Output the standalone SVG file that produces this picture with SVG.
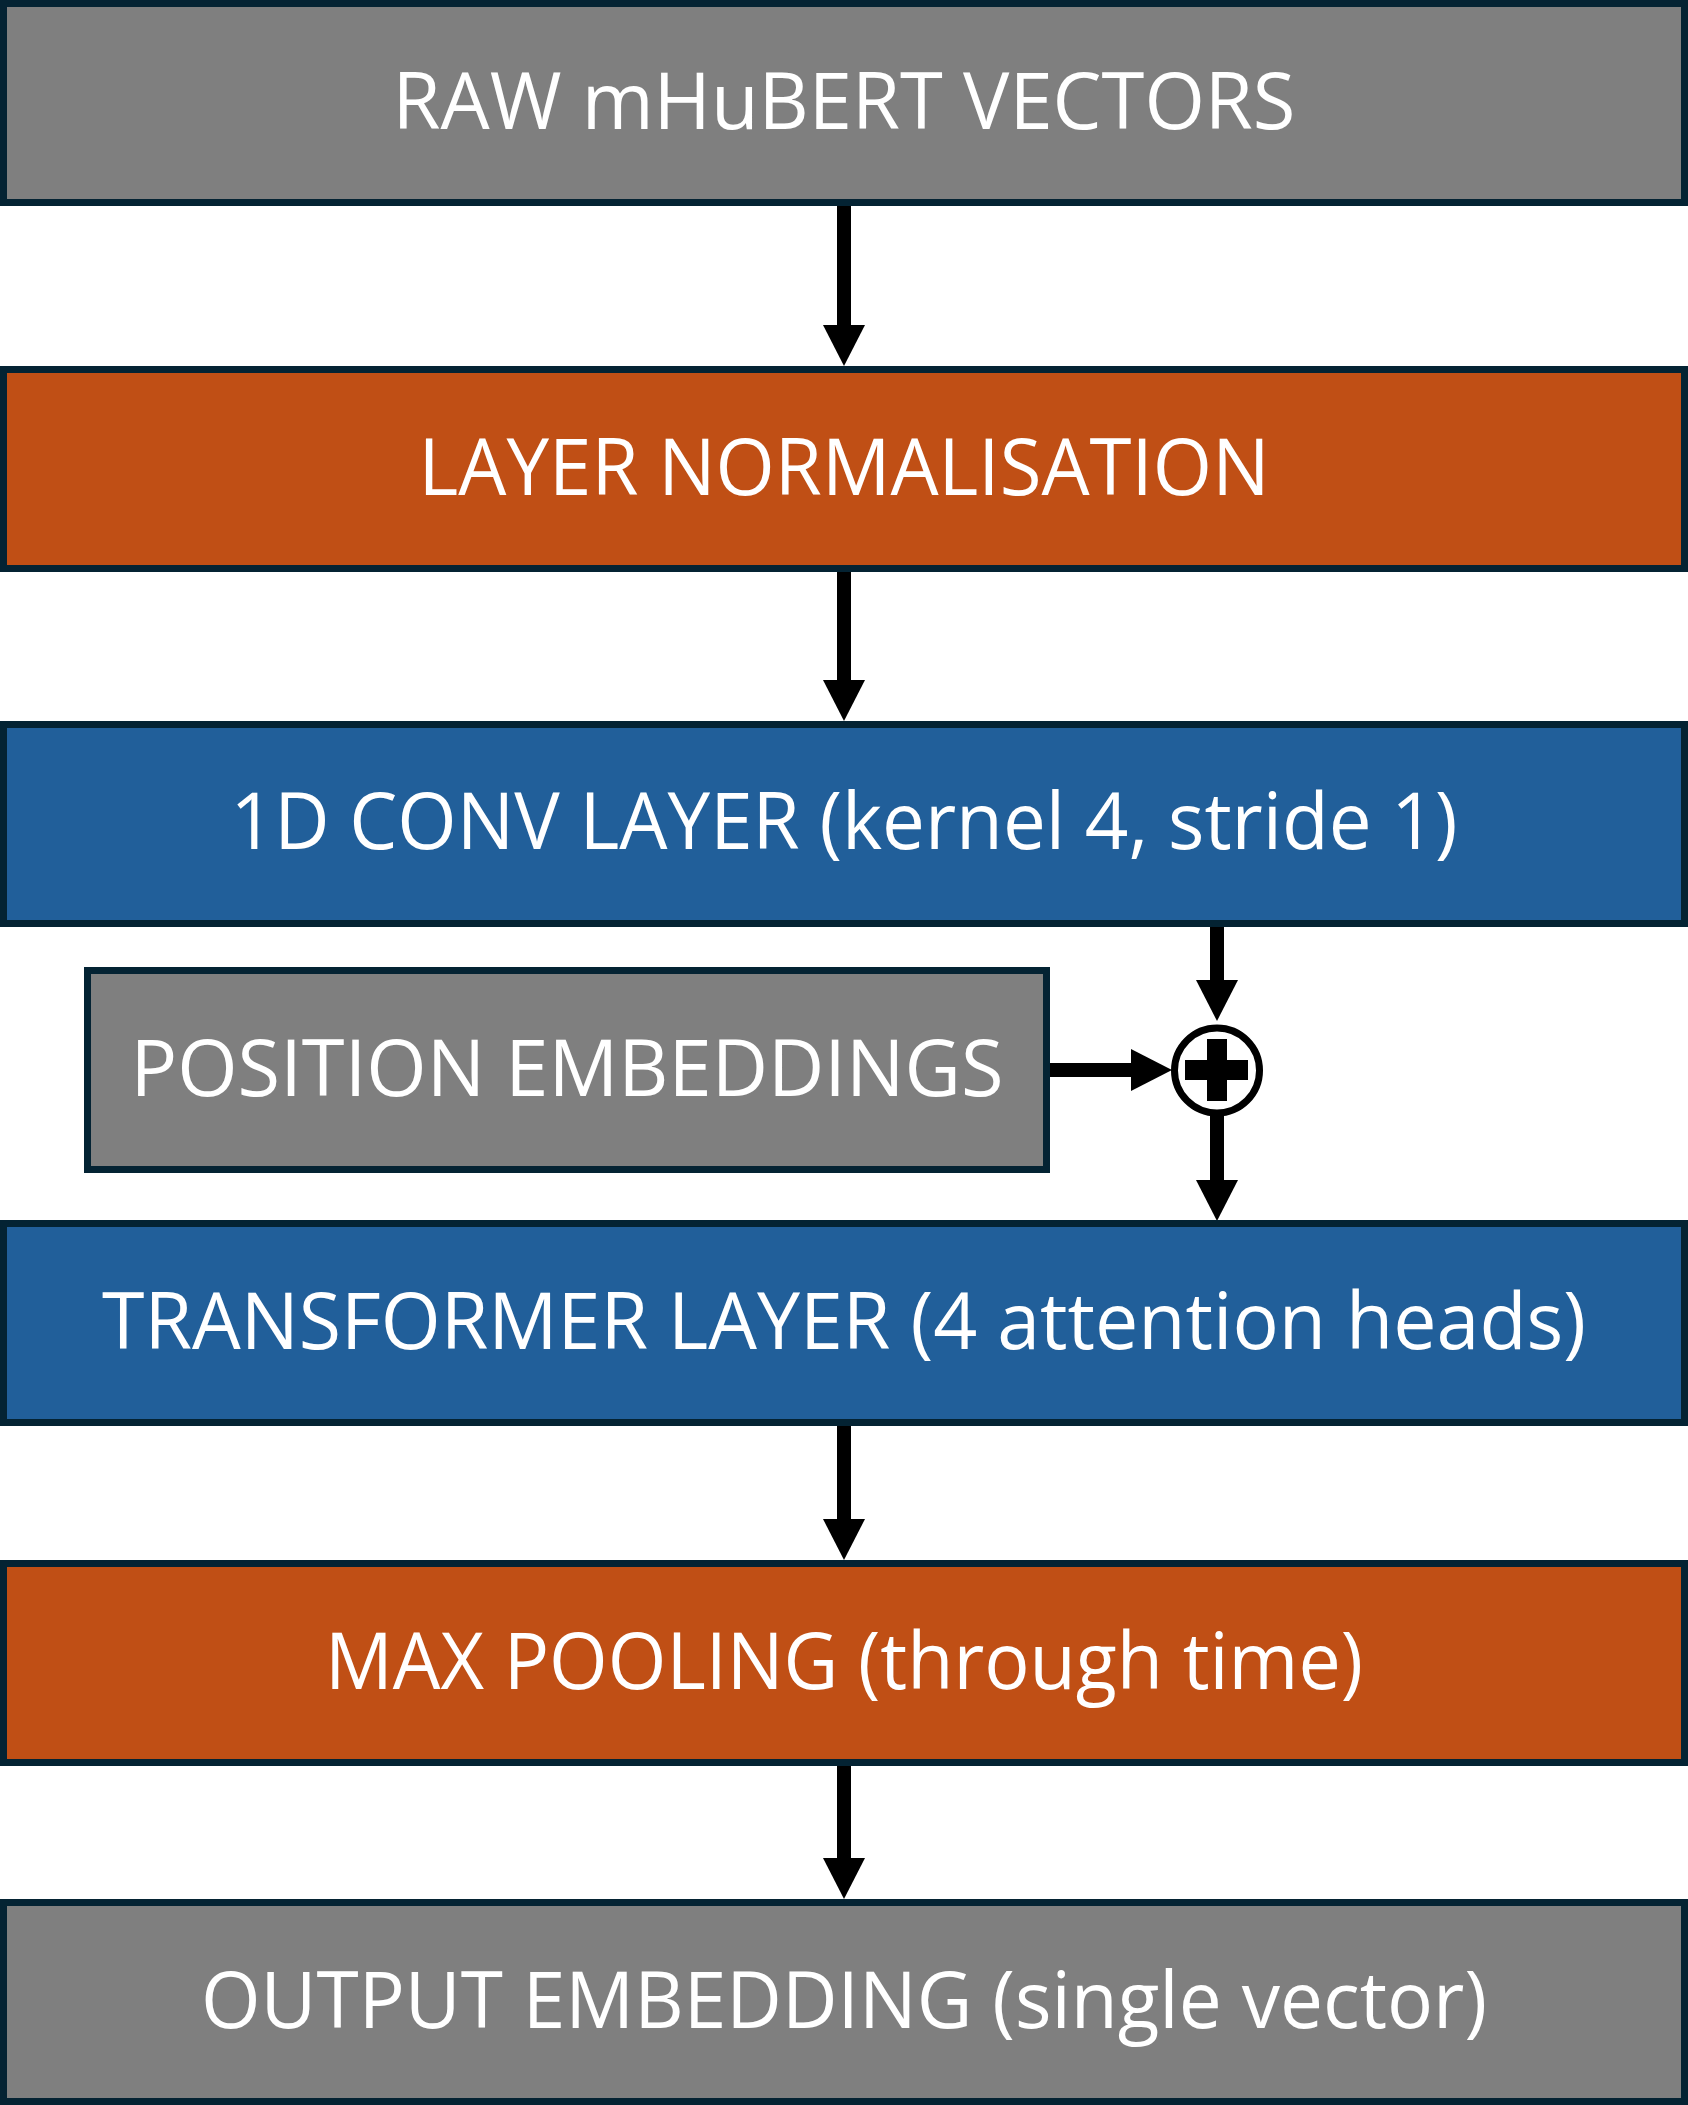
<svg xmlns="http://www.w3.org/2000/svg" width="1688" height="2105" viewBox="0 0 1688 2105">
<style>
.box{stroke:#042333;stroke-width:7}
.grey{fill:#7f7f7f}
.orange{fill:#c04f15}
.blue{fill:#215f9a}
.lbl{font-family:"Open Sans","Liberation Sans",sans-serif;font-size:78px;fill:#ffffff;text-anchor:middle}
.conn{stroke:#000000;stroke-width:14;fill:none;marker-end:url(#ah)}
</style>
<defs>
<marker id="ah" viewBox="0 0 41 42" refX="21" refY="21" markerWidth="41" markerHeight="42" markerUnits="userSpaceOnUse" orient="auto">
<path d="M0,0 L41,21 L0,42 Z" fill="#000000"/>
</marker>
</defs>
<rect width="1688" height="2105" fill="#ffffff"/>
<g id="connectors">
<path class="conn" d="M844,202 V346"/>
<path class="conn" d="M844,569 V701"/>
<path class="conn" d="M1217,924 V1001"/>
<path class="conn" d="M1047,1070 H1152"/>
<path class="conn" d="M1217,1112 V1201"/>
<path class="conn" d="M844,1423 V1540"/>
<path class="conn" d="M844,1763 V1879"/>
</g>
<g id="raw-vectors">
<rect class="box grey" x="3.5" y="3.5" width="1681" height="199"/>
<text class="lbl" x="844" y="129" textLength="903" lengthAdjust="spacingAndGlyphs">RAW mHuBERT VECTORS</text>
</g>
<g id="layer-norm">
<rect class="box orange" x="3.5" y="369.5" width="1681" height="199"/>
<text class="lbl" x="844" y="495" textLength="851" lengthAdjust="spacingAndGlyphs">LAYER NORMALISATION</text>
</g>
<g id="conv-layer">
<rect class="box blue" x="3.5" y="724.5" width="1681" height="199"/>
<text class="lbl" x="844" y="849" textLength="1227" lengthAdjust="spacingAndGlyphs">1D CONV LAYER (kernel 4, stride 1)</text>
</g>
<g id="position-embeddings">
<rect class="box grey" x="87.5" y="970.5" width="959" height="199"/>
<text class="lbl" x="567" y="1096" textLength="873" lengthAdjust="spacingAndGlyphs">POSITION EMBEDDINGS</text>
</g>
<g id="add">
<circle cx="1217" cy="1070.5" r="42.5" fill="#ffffff" stroke="#000000" stroke-width="7"/>
<rect x="1185" y="1060" width="63" height="20" fill="#000000"/>
<rect x="1207" y="1039" width="20" height="62" fill="#000000"/>
</g>
<g id="transformer">
<rect class="box blue" x="3.5" y="1223.5" width="1681" height="199"/>
<text class="lbl" x="844" y="1349" textLength="1484" lengthAdjust="spacingAndGlyphs">TRANSFORMER LAYER (4 attention heads)</text>
</g>
<g id="max-pooling">
<rect class="box orange" x="3.5" y="1563.5" width="1681" height="199"/>
<text class="lbl" x="844" y="1689" textLength="1038" lengthAdjust="spacingAndGlyphs">MAX POOLING (through time)</text>
</g>
<g id="output">
<rect class="box grey" x="3.5" y="1902.5" width="1681" height="199"/>
<text class="lbl" x="844" y="2028" textLength="1286" lengthAdjust="spacingAndGlyphs">OUTPUT EMBEDDING (single vector)</text>
</g>
</svg>
